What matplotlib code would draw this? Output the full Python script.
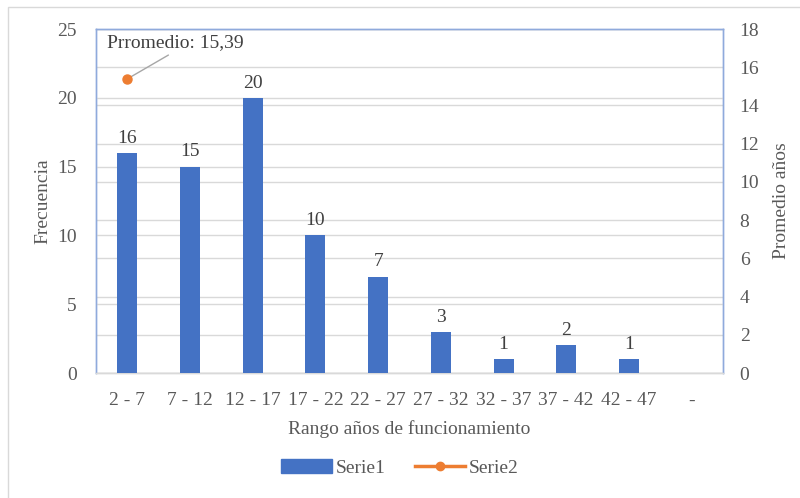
import matplotlib
matplotlib.use("Agg")
import matplotlib.pyplot as plt
from matplotlib.lines import Line2D
from matplotlib.patches import Patch, Rectangle

plt.rcParams['font.family'] = ['Liberation Serif', 'DejaVu Serif']

categories = ["2 - 7", "7 - 12", "12 - 17", "17 - 22", "22 - 27", "27 - 32",
              "32 - 37", "37 - 42", "42 - 47", "-"]
serie1 = [16, 15, 20, 10, 7, 3, 1, 2, 1, None]
serie2_x = 0
serie2_y = 15.39
annot_text = "Prromedio: 15,39"

blue = "#4472C4"
orange = "#ED7D31"
grid = "#D9D9D9"
txt = "#595959"
FS = 14

fig = plt.figure(figsize=(8, 4.98), dpi=100)
fig.patches.append(Rectangle((0.01, -0.01), 1.0, 0.995, transform=fig.transFigure,
                             fill=False, edgecolor="#D9D9D9", linewidth=1))
ax = fig.add_axes([96/800, 1-373/498, (723-96)/800, (373-29)/498])
ax2 = ax.twinx()
ax.set_zorder(ax2.get_zorder() + 1)
ax.patch.set_visible(False)

x = list(range(len(categories)))
vals = [v if v is not None else 0 for v in serie1]
ax.bar(x, vals, width=0.32, color=blue, zorder=3)
for xi, v in zip(x, serie1):
    if v is not None:
        ax.text(xi, v + 0.45, str(v), ha="center", va="bottom", fontsize=FS, color="#404040")

ax.set_xlim(-0.5, len(categories) - 0.5)
ax.set_ylim(0, 25)
ax.set_yticks([0, 5, 10, 15, 20, 25])
ax2.set_ylim(0, 18)
ax2.set_yticks(range(0, 19, 2))

ax.set_xticks(x)
ax.set_xticklabels(categories)
for a in (ax, ax2):
    a.tick_params(axis="both", length=0, labelsize=FS, labelcolor=txt)
ax.tick_params(axis="y", pad=14)
ax2.tick_params(axis="y", pad=12)
ax.tick_params(axis="x", pad=14)

ax.yaxis.grid(True, color=grid, linewidth=1, zorder=0)
ax2.yaxis.grid(True, color=grid, linewidth=1, zorder=0)
ax.set_axisbelow(True)
ax2.set_axisbelow(True)

for a in (ax, ax2):
    a.spines["bottom"].set_color(grid)
    a.spines["top"].set_color("#8FAADC")
    a.spines["left"].set_color("#8FAADC")
    a.spines["right"].set_color("#8FAADC")
    for s in a.spines.values():
        s.set_linewidth(1)

ax2.plot([serie2_x], [serie2_y], marker="o", color=orange, markersize=6.5, zorder=5)
ax2.annotate(annot_text, xy=(serie2_x, serie2_y), xytext=(-0.32, 17.3),
             fontsize=FS, color="#404040", ha="left", va="center",
             arrowprops=dict(arrowstyle="-", color="#A6A6A6", linewidth=1,
                             shrinkA=2, shrinkB=2,
                             relpos=(0.5, 0.0)))

ax.set_xlabel("Rango años de funcionamiento", fontsize=FS, color=txt, labelpad=8)
ax.set_ylabel("Frecuencia", fontsize=FS, color=txt, labelpad=4)
ax2.set_ylabel("Promedio años", fontsize=FS, color=txt, labelpad=10)

handles = [Patch(facecolor=blue, edgecolor=blue, label="Serie1"),
           Line2D([0], [0], color=orange, marker="o", markersize=6, linewidth=2.5, label="Serie2")]
fig.legend(handles=handles, loc="center", bbox_to_anchor=(0.5, 1-468/498), ncol=2,
           frameon=False, fontsize=FS, labelcolor=txt, handlelength=2.6,
           handletextpad=0.2, columnspacing=1.5)

fig.savefig("out.png", dpi=100)
